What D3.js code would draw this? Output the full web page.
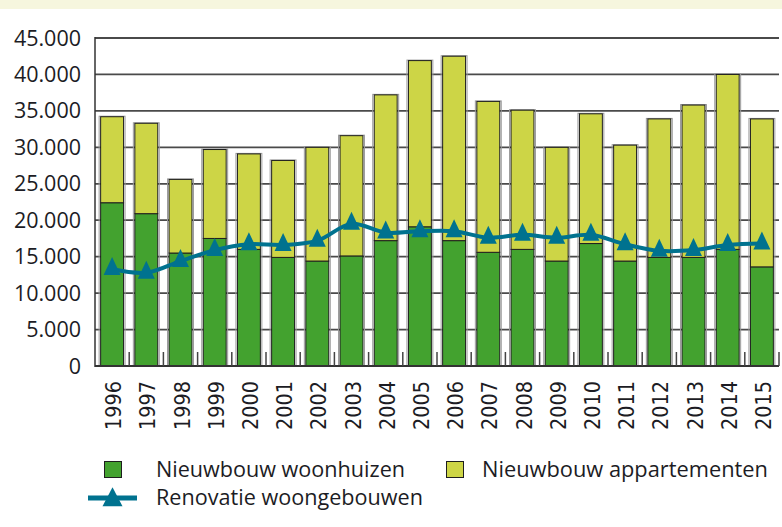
<!DOCTYPE html>
<html>
<head>
<meta charset="utf-8">
<script src="https://cdn.jsdelivr.net/npm/d3@7"></script>
<style>
  html, body { margin: 0; padding: 0; background: #ffffff; }
  svg { display: block; }
</style>
</head>
<body>
<script>
const years = ["1996","1997","1998","1999","2000","2001","2002","2003","2004","2005",
               "2006","2007","2008","2009","2010","2011","2012","2013","2014","2015"];
const houses = [22400,20900,15500,17500,16000,14900,14400,15100,17200,19100,
                17200,15600,16000,14400,16800,14400,14900,14900,16000,13600];
const apartments = [11800,12400,10100,12200,13100,13300,15600,16500,20000,22800,
                    25300,20700,19100,15600,17800,15900,19000,20900,24000,20300];
const renovation = [13300,12800,14400,15900,16700,16600,17200,19500,18300,18500,
                    18500,17600,18000,17600,18000,16700,15800,15900,16600,16800];
const yTicks = [0,5000,10000,15000,20000,25000,30000,35000,40000,45000];
const yTickLabels = ["0","5.000","10.000","15.000","20.000","25.000","30.000","35.000","40.000","45.000"];
const legendLabels = ["Nieuwbouw woonhuizen","Nieuwbouw appartementen","Renovatie woongebouwen"];

const colHouse = "#43a22f", colApt = "#cdd546", colLine = "#00728f";

const W = 782, H = 527;
const svg = d3.select("body").append("svg").attr("width", W).attr("height", H);

// top beige band
svg.append("rect").attr("x",0).attr("y",0).attr("width",W).attr("height",9).attr("fill","#f6f6de");

const x = d3.scaleBand().domain(years).range([95, 779]).paddingInner(0.33).paddingOuter(0.165);
const y = d3.scaleLinear().domain([0, 45000]).range([366, 38]);

// gridlines
svg.append("g").selectAll("line").data(yTicks.filter(d => d > 0)).join("line")
  .attr("x1", 95).attr("x2", 779)
  .attr("y1", d => y(d)).attr("y2", d => y(d))
  .attr("stroke", "#4a4a4a").attr("stroke-width", 1.8);

// bars
const stacked = years.map((yr, i) => ({yr, h: houses[i], a: apartments[i]}));
const bars = svg.append("g");
// soft gray halo
bars.selectAll("rect.halo").data(stacked).join("rect").attr("class","halo")
  .attr("x", d => x(d.yr) - 1.5).attr("width", x.bandwidth() + 3)
  .attr("y", d => y(d.h + d.a) - 0.5).attr("height", d => y(0) - y(d.h + d.a) + 0.5)
  .attr("fill", "none").attr("stroke", "#9a9a9a").attr("stroke-width", 1);
bars.selectAll("rect.house").data(stacked).join("rect").attr("class","house")
  .attr("x", d => x(d.yr)).attr("width", x.bandwidth())
  .attr("y", d => y(d.h)).attr("height", d => y(0) - y(d.h))
  .attr("fill", colHouse).attr("stroke", "#1e1e1e").attr("stroke-width", 1);
bars.selectAll("rect.apt").data(stacked).join("rect").attr("class","apt")
  .attr("x", d => x(d.yr)).attr("width", x.bandwidth())
  .attr("y", d => y(d.h + d.a)).attr("height", d => y(d.h) - y(d.h + d.a))
  .attr("fill", colApt).attr("stroke", "#1e1e1e").attr("stroke-width", 1);

// x axis line and inward ticks at band boundaries
svg.append("line").attr("x1", 95).attr("x2", 779).attr("y1", 366).attr("y2", 366)
  .attr("stroke", "#333").attr("stroke-width", 2);
svg.append("g").selectAll("line").data(years).join("line")
  .attr("x1", d => x(d) + x.bandwidth() + x.step()*x.paddingInner()/2)
  .attr("x2", d => x(d) + x.bandwidth() + x.step()*x.paddingInner()/2)
  .attr("y1", 352).attr("y2", 366)
  .attr("stroke", "#444").attr("stroke-width", 1.5);
// y axis line
svg.append("line").attr("x1", 95).attr("x2", 95).attr("y1", 37).attr("y2", 367)
  .attr("stroke", "#333").attr("stroke-width", 1.5);

// y labels
svg.append("g").selectAll("text").data(yTicks).join("text")
  .attr("x", 81).attr("y", d => y(d)).attr("dy", "0.35em")
  .attr("text-anchor", "end")
  .attr("font-family", "'Open Sans', 'Noto Sans', sans-serif")
  .attr("font-size", 21.5).attr("fill", "#1c1c24")
  .text((d, i) => yTickLabels[i]);

// x labels rotated
svg.append("g").selectAll("text").data(years).join("text")
  .attr("transform", d => `translate(${x(d) + x.bandwidth()/2 + 9},381) rotate(-90)`)
  .attr("text-anchor", "end")
  .attr("font-family", "'DejaVu Sans', Verdana, sans-serif")
  .attr("font-size", 22).attr("fill", "#1c1c24")
  .attr("textLength", 49).attr("lengthAdjust", "spacingAndGlyphs")
  .text(d => d);

// renovation line
const lineGen = d3.line()
  .x((d, i) => x(years[i]) + x.bandwidth()/2)
  .y(d => y(d))
  .curve(d3.curveCatmullRom.alpha(0.5));
svg.append("path").datum(renovation).attr("d", lineGen)
  .attr("fill", "none").attr("stroke", colLine).attr("stroke-width", 4);

// triangle markers (centroid on data point)
function tri(cx, cy, w, h) {
  return `M${cx},${cy - 2*h/3} L${cx + w/2},${cy + h/3} L${cx - w/2},${cy + h/3} Z`;
}
svg.append("g").selectAll("path").data(renovation).join("path")
  .attr("d", (d, i) => tri(x(years[i]) + x.bandwidth()/2, y(d), 17, 18))
  .attr("fill", colLine);

// legend
const lf = "'Open Sans', 'Noto Sans', sans-serif";
svg.append("rect").attr("x", 104.5).attr("y", 461.5).attr("width", 17).attr("height", 16)
  .attr("fill", colHouse).attr("stroke", "#1e1e1e").attr("stroke-width", 1);
svg.append("text").attr("x", 156).attr("y", 477).attr("font-family", lf).attr("font-size", 21)
  .attr("fill", "#1c1c24").attr("textLength", 249).attr("lengthAdjust", "spacingAndGlyphs")
  .text(legendLabels[0]);
svg.append("rect").attr("x", 446.5).attr("y", 461.5).attr("width", 17).attr("height", 16)
  .attr("fill", colApt).attr("stroke", "#1e1e1e").attr("stroke-width", 1);
svg.append("text").attr("x", 482).attr("y", 477).attr("font-family", lf).attr("font-size", 21)
  .attr("fill", "#1c1c24").attr("textLength", 286).attr("lengthAdjust", "spacingAndGlyphs")
  .text(legendLabels[1]);
svg.append("line").attr("x1", 88).attr("x2", 137).attr("y1", 498).attr("y2", 498)
  .attr("stroke", colLine).attr("stroke-width", 5);
svg.append("path").attr("d", tri(112.5, 500, 20, 19)).attr("fill", colLine);
svg.append("text").attr("x", 156).attr("y", 505).attr("font-family", lf).attr("font-size", 21)
  .attr("fill", "#1c1c24").attr("textLength", 267).attr("lengthAdjust", "spacingAndGlyphs")
  .text(legendLabels[2]);
</script>
</body>
</html>
